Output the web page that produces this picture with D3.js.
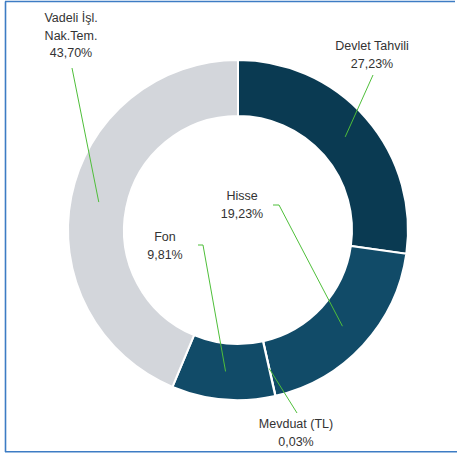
<!DOCTYPE html>
<html>
<head>
<meta charset="utf-8">
<script src="https://cdn.jsdelivr.net/npm/d3@7/dist/d3.min.js"></script>
<style>
  html, body { margin: 0; padding: 0; background: #fff; }
  svg { display: block; }
  text { font-family: "Liberation Sans", Arial, sans-serif; font-size: 12.5px; fill: #333; }
</style>
</head>
<body>
<script>
// chart data
var categories = ["Devlet Tahvili", "Hisse", "Mevduat (TL)", "Fon", "Vadeli İşl. Nak.Tem."];
var shares = [27.23, 19.23, 0.03, 9.81, 43.70];
var labelLines = [["Devlet Tahvili"], ["Hisse"], ["Mevduat (TL)"], ["Fon"], ["Vadeli İşl.", "Nak.Tem."]];
var colors = ["#0a3a52", "#114b68", "#114b68", "#114b68", "#d3d6db"];

var width = 457,
    height = 455;

var cx = 238, cy = 230,
    outerRadius = 170,
    innerRadius = 114;

// where each label block sits and where its leader line starts (layout only)
var labelLayout = {
    "Devlet Tahvili":       { x: 372, y: 50,  lx: [373], ly: [75] },
    "Hisse":                { x: 242, y: 200, lx: [273, 279], ly: [205, 205] },
    "Mevduat (TL)":         { x: 296, y: 428, lx: [297], ly: [413] },
    "Fon":                  { x: 165, y: 241, lx: [198, 203], ly: [245, 245] },
    "Vadeli İşl. Nak.Tem.": { x: 71,  y: 22,  lx: [72], ly: [68] }
};

var fmt = function(v) { return v.toFixed(2).replace('.', ',') + '%'; };

var svg = d3.select('body').append('svg')
    .attr('width', width)
    .attr('height', height);

// frame
var frame = svg.append('g')
    .attr('fill', 'none')
    .attr('stroke', '#3d7cc4')
    .attr('stroke-width', 1.6);
frame.append('line').attr('x1', 5).attr('y1', 1.5).attr('x2', 455).attr('y2', 1.5);
frame.append('line').attr('x1', 5.5).attr('y1', 1.5).attr('x2', 5.5).attr('y2', 452);
frame.append('line').attr('x1', 5).attr('y1', 451.8).attr('x2', 457).attr('y2', 451.8);

var data = categories.map(function(c, i) {
    return { name: c, value: shares[i], lines: labelLines[i], color: colors[i] };
});

var pie = d3.pie()
    .sort(null)
    .value(function(d) { return d.value; });

var arc = d3.arc()
    .innerRadius(innerRadius)
    .outerRadius(outerRadius);

var midArc = d3.arc()
    .innerRadius((innerRadius + outerRadius) / 2)
    .outerRadius((innerRadius + outerRadius) / 2);

var chart = svg.append('g')
    .attr('transform', 'translate(' + cx + ',' + cy + ')');

var arcs = pie(data);

chart.selectAll('.slice')
    .data(arcs)
    .enter().append('path')
        .attr('class', 'slice')
        .attr('d', arc)
        .attr('fill', function(d) { return d.data.color; })
        .attr('stroke', '#fff')
        .attr('stroke-width', 2)
        .attr('stroke-linejoin', 'miter');

// leader lines
var line = d3.line();
svg.selectAll('.leader')
    .data(arcs)
    .enter().append('path')
        .attr('class', 'leader')
        .attr('fill', 'none')
        .attr('stroke', '#4fbf3a')
        .attr('stroke-width', 1)
        .attr('d', function(d) {
            var lay = labelLayout[d.data.name];
            var pts = lay.lx.map(function(x, i) { return [x, lay.ly[i]]; });
            var c = midArc.centroid(d);
            pts.push([cx + c[0], cy + c[1]]);
            return line(pts);
        });

// labels
var labels = svg.selectAll('.label')
    .data(arcs)
    .enter().append('text')
        .attr('class', 'label')
        .attr('text-anchor', 'middle')
        .attr('transform', function(d) {
            var lay = labelLayout[d.data.name];
            return 'translate(' + lay.x + ',' + lay.y + ')';
        });

labels.each(function(d) {
    var t = d3.select(this);
    var rows = d.data.lines.concat([fmt(d.data.value)]);
    rows.forEach(function(r, i) {
        t.append('tspan')
            .attr('x', 0)
            .attr('dy', i === 0 ? 0 : 17.5)
            .text(r);
    });
});
</script>
</body>
</html>
